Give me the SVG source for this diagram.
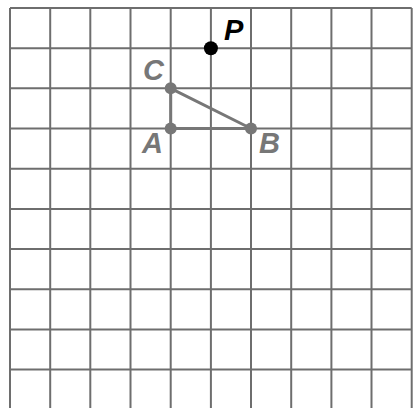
<svg xmlns="http://www.w3.org/2000/svg" width="417" height="408" viewBox="0 0 417 408">
<style>
.grid line{stroke:#6e6e6e;stroke-width:2}
.tri{stroke:#777;stroke-width:3;fill:none;stroke-linejoin:round}
.gdot{fill:#777}
.lbl{font-family:"Liberation Sans",Arial,sans-serif;font-size:29px;font-style:italic;font-weight:bold;fill:#777}
.plbl{font-family:"Liberation Sans",Arial,sans-serif;font-size:29px;font-style:italic;font-weight:bold;fill:#000}
</style>
<rect width="417" height="408" fill="#fff"/>
<g class="grid">
<line x1="10" y1="8" x2="10" y2="410"/>
<line x1="50.2" y1="8" x2="50.2" y2="410"/>
<line x1="90.3" y1="8" x2="90.3" y2="410"/>
<line x1="130.5" y1="8" x2="130.5" y2="410"/>
<line x1="170.7" y1="8" x2="170.7" y2="410"/>
<line x1="210.9" y1="8" x2="210.9" y2="410"/>
<line x1="251" y1="8" x2="251" y2="410"/>
<line x1="291.2" y1="8" x2="291.2" y2="410"/>
<line x1="331.4" y1="8" x2="331.4" y2="410"/>
<line x1="371.5" y1="8" x2="371.5" y2="410"/>
<line x1="411.7" y1="8" x2="411.7" y2="410"/>
<line x1="10" y1="8" x2="411.7" y2="8"/>
<line x1="10" y1="48.2" x2="411.7" y2="48.2"/>
<line x1="10" y1="88.3" x2="411.7" y2="88.3"/>
<line x1="10" y1="128.5" x2="411.7" y2="128.5"/>
<line x1="10" y1="168.7" x2="411.7" y2="168.7"/>
<line x1="10" y1="208.9" x2="411.7" y2="208.9"/>
<line x1="10" y1="249" x2="411.7" y2="249"/>
<line x1="10" y1="289.2" x2="411.7" y2="289.2"/>
<line x1="10" y1="329.4" x2="411.7" y2="329.4"/>
<line x1="10" y1="369.5" x2="411.7" y2="369.5"/>
<line x1="10" y1="409.7" x2="411.7" y2="409.7"/>
</g>
<g id="connectors">
<polygon class="tri" points="170.7,88.3 170.7,128.5 251,128.5"/>
</g>
<g id="node-A">
<circle class="gdot" cx="170.7" cy="128.5" r="6"/>
<text class="lbl" x="142" y="153">A</text>
</g>
<g id="node-B">
<circle class="gdot" cx="251" cy="128.5" r="6"/>
<text class="lbl" x="259" y="153">B</text>
</g>
<g id="node-C">
<circle class="gdot" cx="170.7" cy="88.3" r="6"/>
<text class="lbl" x="143" y="80">C</text>
</g>
<g id="node-P">
<circle cx="210.9" cy="48.2" r="7" fill="#000"/>
<text class="plbl" x="224" y="40">P</text>
</g>
</svg>
